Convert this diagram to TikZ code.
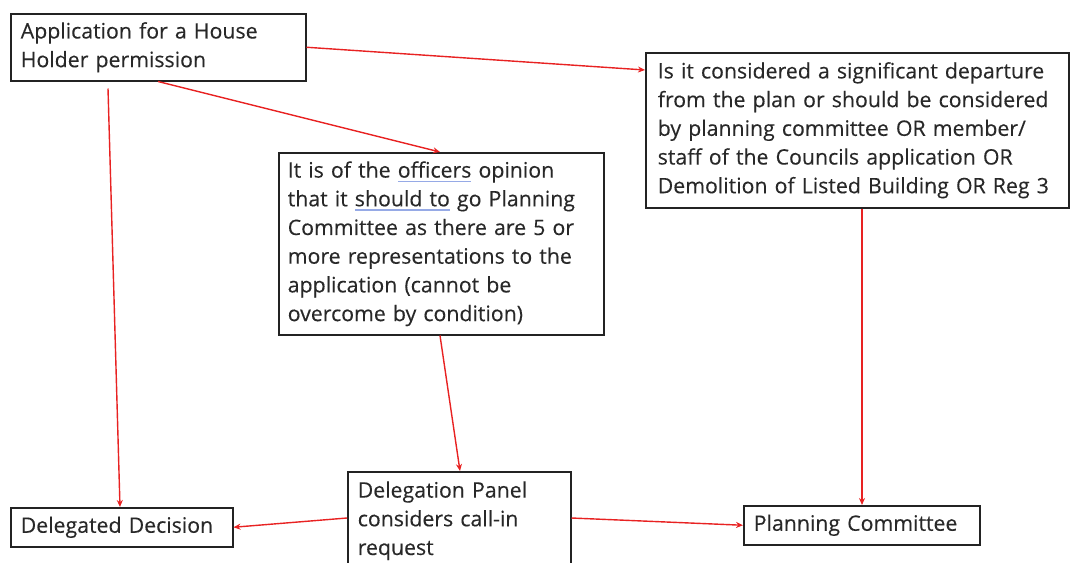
\documentclass[tikz,border=0pt]{standalone}
\usepackage{fontspec}
\setmainfont{Open Sans}[FakeBold=0.25]
\usetikzlibrary{arrows.meta}
\definecolor{arrowred}{RGB}{232,34,34}
\definecolor{boxline}{RGB}{35,35,35}
\definecolor{txt}{RGB}{40,40,40}
\definecolor{squig}{RGB}{150,170,230}
\newcommand\spellmark[1]{\setbox0\hbox{#1}\rlap{\textcolor{squig}{\rule[-4.5pt]{\wd0}{1.3pt}}}#1}
\tikzset{
  box/.style={draw=boxline, line width=1.5pt, anchor=north west, inner xsep=10pt, inner ysep=0pt,
    align=left, text=txt, font=\fontsize{21.3}{28.7}\selectfont},
  flow/.style={draw=arrowred, line width=1.4pt, -{Stealth[length=7pt,width=6pt]}}
}
\begin{document}
\begin{tikzpicture}[x=1pt,y=-1pt]
\useasboundingbox (0,0) rectangle (1070,562);
\node[box, minimum width=295pt, minimum height=67pt, text width=275pt] (A) at (10,13)
  {Application for a House\\Holder permission};
\node[box, minimum width=325pt, minimum height=182pt, text width=307pt, inner xsep=9pt] (B) at (278,152)
  {It is of the \spellmark{officers} opinion\\that it \spellmark{should to} go Planning\\Committee as there are 5 or\\more representations to the\\application (cannot be\\overcome by condition)};
\node[box, minimum width=423pt, minimum height=155pt, text width=399pt, inner xsep=12pt] (C) at (645,52)
  {Is it considered a significant departure\\from the plan or should be considered\\by planning committee OR member/\\staff of the Councils application OR\\Demolition of Listed Building OR Reg 3};
\node[box, minimum width=222pt, minimum height=39pt, text width=202pt] (D) at (10,507)
  {Delegated Decision};
\node[box, minimum width=223pt, minimum height=98pt, text width=203pt] (E) at (347,471)
  {Delegation Panel\\considers call-in\\request};
\node[box, minimum width=236pt, minimum height=39pt, text width=216pt] (F) at (743,505)
  {Planning Committee};
\draw[flow] (A.east) -- ([yshift=-18pt]C.north west);
\draw[flow] ([xshift=148pt]A.south west) -- ([xshift=162pt]B.north west);
\draw[flow] ([xshift=98pt,yshift=-7pt]A.south west) -- ([xshift=110pt]D.north west);
\draw[flow] ([xshift=162pt]B.south west) -- ([xshift=113pt]E.north west);
\draw[flow] ([xshift=217pt]C.south west) -- ([xshift=119pt]F.north west);
\draw[flow] ([yshift=-47pt]E.north west) -- (D.east);
\draw[flow] ([yshift=-47pt]E.north east) -- (F.west);
\end{tikzpicture}
\end{document}
